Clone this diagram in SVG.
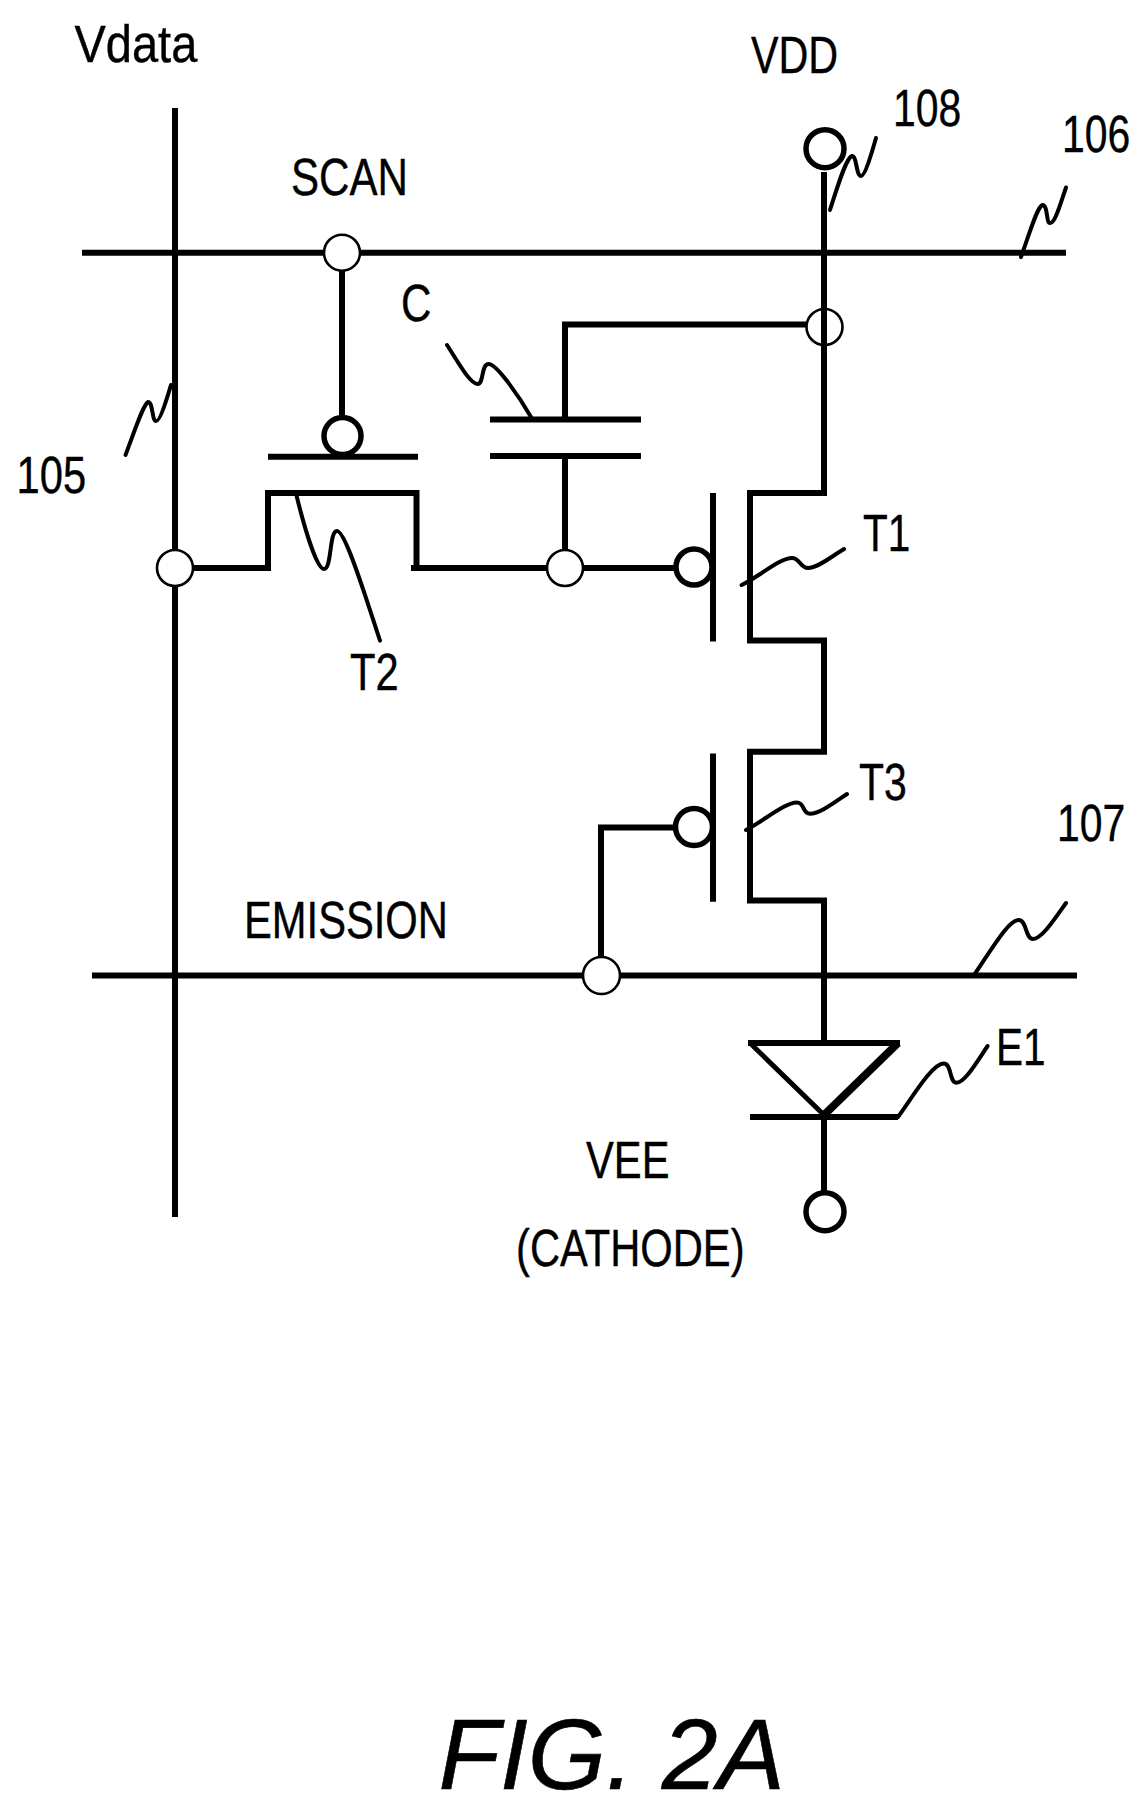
<svg xmlns="http://www.w3.org/2000/svg" width="1148" height="1810" viewBox="0 0 1148 1810">
<style>
.w{fill:none;stroke:#000;stroke-width:6;stroke-linecap:butt;stroke-linejoin:miter}
.s{fill:none;stroke:#000;stroke-width:4;stroke-linecap:round;stroke-linejoin:round}
.j{fill:#fff;stroke:#000;stroke-width:2.6}
.b{fill:#fff;stroke:#000;stroke-width:5.5}
.t{font-family:"Liberation Sans",Arial,sans-serif;font-size:40.5px;fill:#000;stroke:#000;stroke-width:.3}
</style>
<rect width="1148" height="1810" fill="#fff"/>
<g id="connectors">
<path class="w" d="M175 108V1217"/>
<path class="w" d="M82 252.7H1066"/>
<path class="w" d="M92 975.5H1077"/>
<path class="w" d="M342 252V420"/>
<path class="w" d="M175 568H268V493H416.5V568M411 568H675"/>
<path class="w" d="M565 456V568M565 420V324.5H806"/>
<path class="w" d="M824 172V493H750V640.6H824V751.7H750V900.5H824V1043"/>
<path class="w" d="M601 956V827.4H676"/>
<path class="w" d="M824 1117V1192"/>
</g>
<g id="leaders">
<path class="s" d="M125.5 455C135 430 143 405 148 402C153 402 152 421 156 421C160 422 168 395 171 385"/>
<path class="s" d="M830 210C838 185 846 158 852 156C857 156 856 176 861 176C865 176 872 152 876 138"/>
<path class="s" d="M1021 257C1030 232 1037 207 1042.5 205C1048 205 1046 223 1050 223C1055 224 1061 202 1066 187.5"/>
<path class="s" d="M447 345C458 362 470 384 477.6 384C484 384 481 364 488.6 364C497 364 520 398 531 417"/>
<path class="s" d="M296.5 495.5C305 530 317 569 324 569C332 569 329 531 337 531C346 531 368 605 380 640.6"/>
<path class="s" d="M741.6 585C760 576 780 558 792 558C800 558 800 568 808 568C818 568 832 556 844 549"/>
<path class="s" d="M746 830C765 820 785 802.5 797 802.5C805 802.5 802 813.7 810 813.7C820 813.7 835 802 847 794"/>
<path class="s" d="M975 973.6C990 952 1008 920 1018.7 920C1027 920 1025 939 1033 939C1042 939 1056 917 1066 903"/>
<path class="s" d="M898 1117C912 1098 932 1063.6 943.7 1063.6C952 1063.6 949 1082.7 956.5 1082.7C965 1082.7 978 1060 987.6 1046"/>
</g>
<g id="T2">
<path class="w" d="M268 456.7H418"/>
<circle class="b" cx="342.500" cy="436" r="18.500"/>
</g>
<g id="C">
<path class="w" d="M490 419.600H641M490 456H641"/>
</g>
<g id="T1">
<path class="w" d="M713 493V641.500"/>
<circle class="b" cx="694" cy="567" r="18"/>
</g>
<g id="T3">
<path class="w" d="M713 753.600V901.700"/>
<circle class="b" cx="694" cy="827" r="18.500"/>
</g>
<g id="E1">
<path class="w" d="M750 1117H898"/>
<path d="M750 1043L824 1115" class="w" style="stroke-width:5"/>
<path d="M898 1043L824 1115" class="w" style="stroke-width:8"/>
<path class="w" d="M748 1043H900"/>
</g>
<g id="VDD-terminal"><circle class="b" cx="825" cy="148.700" r="19"/></g>
<g id="VEE-terminal"><circle class="b" cx="825" cy="1211.700" r="19"/></g>
<g id="scan-node"><circle class="j" cx="342" cy="252.700" r="18"/></g>
<g id="vdata-node"><circle class="j" cx="175" cy="568" r="18"/></g>
<g id="cap-node"><circle class="j" cx="565" cy="568" r="18"/></g>
<g id="vdd-node"><circle class="j" style="fill:none" cx="824.500" cy="327" r="18"/></g>
<g id="emission-node"><circle class="j" cx="601.500" cy="975.500" r="18.500"/></g>
<g id="labels">
<text class="t" transform="translate(74.500 61.600) scale(1.16 1.27)">Vdata</text>
<text class="t" transform="translate(291 195) scale(1.04 1.26)">SCAN</text>
<text class="t" transform="translate(401 321.400) scale(1.04 1.26)">C</text>
<text class="t" transform="translate(16.500 493) scale(1.03 1.26)">105</text>
<text class="t" transform="translate(350 689.700) scale(1.03 1.26)">T2</text>
<text class="t" transform="translate(751 72.800) scale(1.02 1.26)">VDD</text>
<text class="t" transform="translate(893 126) scale(1.01 1.26)">108</text>
<text class="t" transform="translate(1062 151.800) scale(1.01 1.26)">106</text>
<text class="t" transform="translate(863 551.300) scale(1 1.26)">T1</text>
<text class="t" transform="translate(859 800) scale(1.01 1.26)">T3</text>
<text class="t" transform="translate(1057 840.500) scale(1.01 1.26)">107</text>
<text class="t" transform="translate(996 1064.500) scale(1 1.26)">E1</text>
<text class="t" transform="translate(586 1177.500) scale(1.03 1.26)">VEE</text>
<text class="t" transform="translate(516 1266) scale(1.03 1.26)">(CATHODE)</text>
<text class="t" transform="translate(244 938) scale(1.03 1.26)">EMISSION</text>
<text transform="translate(438.500 1789)" style="font-family:'Liberation Sans',Arial,sans-serif;font-style:italic;font-size:100.5px;fill:#000;stroke:#000;stroke-width:.6">FIG. 2A</text>
</g>
</svg>
